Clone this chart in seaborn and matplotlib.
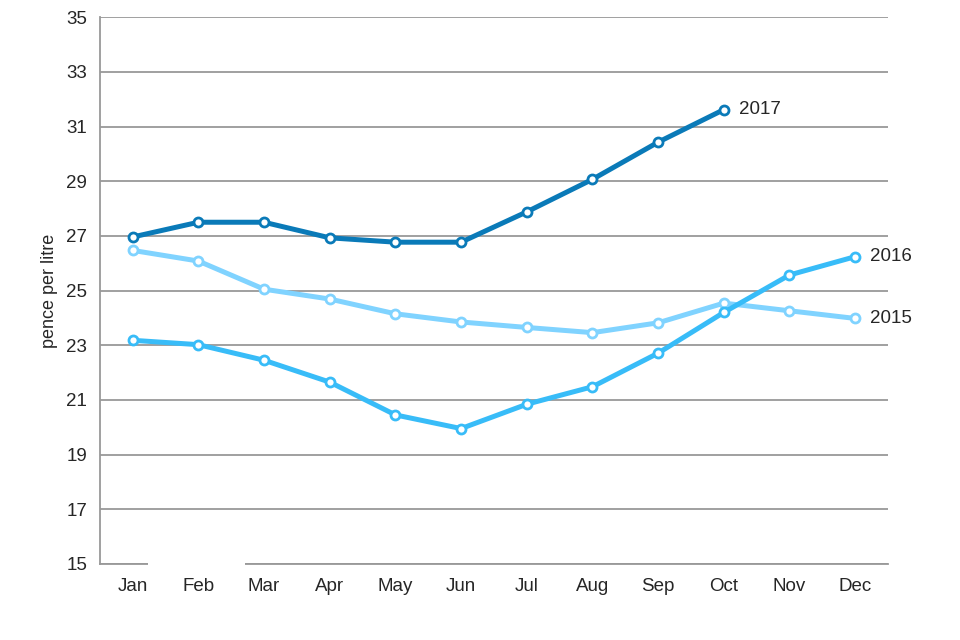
import numpy as np
import pandas as pd
import matplotlib
matplotlib.use('Agg')
import matplotlib.pyplot as plt
from matplotlib.patches import Rectangle
import seaborn as sns

sns.set_style('white')
plt.rcParams['font.family'] = ['Liberation Sans', 'DejaVu Sans']

months = ['Jan', 'Feb', 'Mar', 'Apr', 'May', 'Jun', 'Jul', 'Aug', 'Sep', 'Oct', 'Nov', 'Dec']
y2015 = [26.47, 26.08, 25.05, 24.69, 24.15, 23.85, 23.65, 23.46, 23.82, 24.54, 24.26, 23.98]
y2016 = [23.18, 23.02, 22.45, 21.65, 20.45, 19.95, 20.84, 21.48, 22.71, 24.20, 25.57, 26.24]
y2017 = [26.96, 27.50, 27.50, 26.93, 26.77, 26.77, 27.88, 29.07, 30.43, 31.62]
years = ['2015', '2016', '2017']
colours = {'2015': '#80D3FF', '2016': '#38BCF8', '2017': '#0A7AB8'}

rows = []
for yr, vals in zip(years, [y2015, y2016, y2017]):
    for i, v in enumerate(vals):
        rows.append({'month': i, 'year': yr, 'value': v})
df = pd.DataFrame(rows)

fig, ax = plt.subplots(figsize=(9.6, 6.4), dpi=100)
fig.subplots_adjust(left=0.104, right=0.925, top=0.973, bottom=0.119)

ax.yaxis.grid(True, color='#999999', linewidth=1.3)
ax.set_axisbelow(True)

sns.lineplot(data=df, x='month', y='value', hue='year', palette=colours,
             linewidth=3.6, marker='o', markersize=6.5, markerfacecolor='white',
             markeredgewidth=2, legend=False, ax=ax)
# marker edges in line colour
for line, yr in zip(ax.lines, years):
    line.set_markeredgecolor(colours[yr])

# series labels at the last point
for yr, vals in zip(years, [y2015, y2016, y2017]):
    ax.annotate(yr, xy=(len(vals) - 1, vals[-1]), xytext=(11, 0),
                textcoords='offset points', va='center', ha='left', fontsize=13.5)

ax.set_xlim(-0.5, 11.5)
ax.set_ylim(15, 35)
ax.set_yticks(np.arange(15, 36, 2))
ax.set_xticks(range(12))
ax.set_xticklabels(months)
ax.set_xticks(np.arange(-0.5, 12, 1), minor=True)
ax.tick_params(axis='x', which='major', length=0, pad=10, labelsize=13.5)
ax.tick_params(axis='x', which='minor', length=5, color='#999999', width=1.3, direction='out')
ax.tick_params(axis='y', length=5, color='#999999', width=1.3, direction='out', labelsize=13.5, pad=4)
ax.set_xlabel('')
ax.set_ylabel('pence per litre', fontsize=13, labelpad=6)

for s in ['top', 'right']:
    ax.spines[s].set_visible(False)
for s in ['left', 'bottom']:
    ax.spines[s].set_color('#999999')
    ax.spines[s].set_linewidth(1.3)

# white gap over the bottom axis line, as in the original
fig.patches.append(Rectangle((148 / 960, 1 - 567 / 640), 97 / 960, 6 / 640,
                             transform=fig.transFigure, facecolor='white',
                             edgecolor='none', zorder=10))

plt.savefig('out.png', dpi=100)
